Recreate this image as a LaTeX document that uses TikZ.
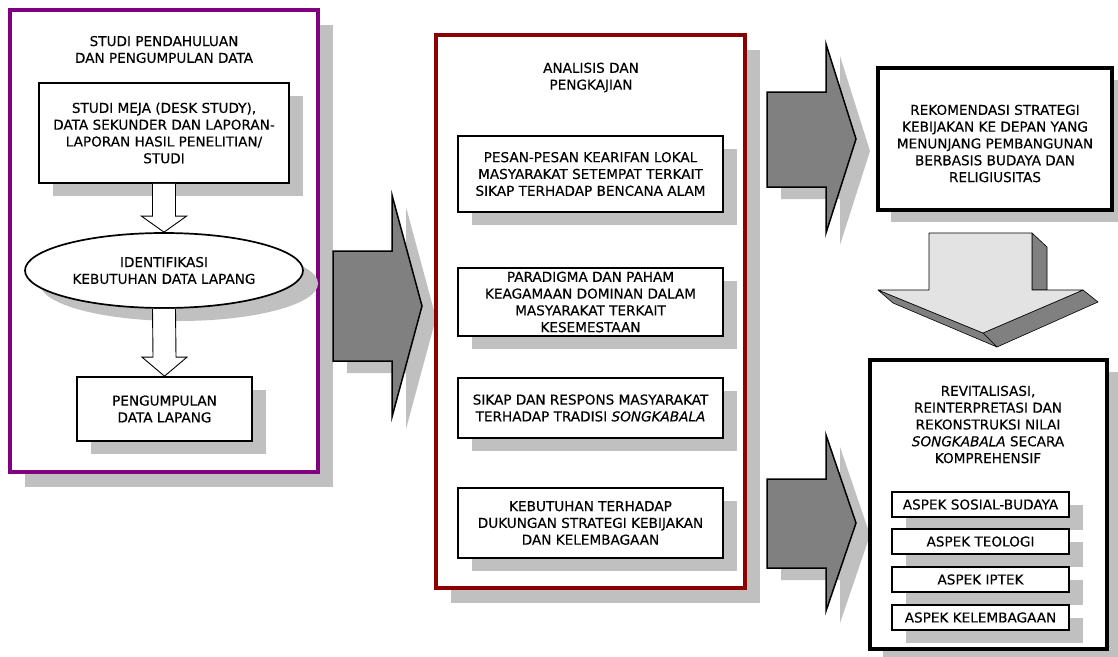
\documentclass[tikz,border=0pt]{standalone}
\usepackage{fontspec}
\setmainfont{DejaVu Sans}[FakeBold=0.3]
\usetikzlibrary{shapes.geometric,shadows,calc}
\definecolor{shd}{RGB}{192,192,192}
\definecolor{purp}{RGB}{128,0,128}
\definecolor{dred}{RGB}{139,0,0}
\definecolor{agray}{RGB}{128,128,128}
\definecolor{lgray}{RGB}{227,227,227}
\begin{document}
\begin{tikzpicture}[x=1pt,y=-1pt,
  txt/.style={font=\fontsize{13.6}{16.8}\selectfont, align=center},
  bshadow/.style={drop shadow={shadow xshift=14pt,shadow yshift=-13pt,fill=shd,opacity=1}},
  cshadow/.style={drop shadow={shadow xshift=15pt,shadow yshift=-15pt,fill=shd,opacity=1}},
  container/.style={line width=3.2pt, fill=white, inner sep=0pt, cshadow},
  inbox/.style={draw=black, line width=1.7pt, fill=white, inner sep=0pt, txt, bshadow},
  outbox/.style={draw=black, line width=3.2pt, fill=white, inner sep=0pt, txt,
    drop shadow={shadow xshift=13pt,shadow yshift=-12pt,fill=shd,opacity=1}},
  hollow/.style={draw=black, line width=0.9pt, fill=white},
  bigarrow/.style={draw=black, line width=1.5pt, fill=agray, line join=miter,
    drop shadow={shadow xshift=14pt,shadow yshift=-12pt,fill=shd,opacity=1}},
  face/.style={draw=black, line width=0.6pt, line join=round},
]
\useasboundingbox (0,0) rectangle (1118,656);
\fill[white] (0,0) rectangle (1118,656);

% ---------- column 1 ----------
\node[container, draw=purp, minimum width=308pt, minimum height=462pt] (c1) at (164,241) {};
\node[txt] (t1) at (164,49.5) {STUDI PENDAHULUAN\\DAN PENGUMPULAN DATA};
\node[inbox, minimum width=250pt, minimum height=100pt] (b1) at (164,133)
  {STUDI MEJA (DESK STUDY),\\DATA SEKUNDER DAN LAPORAN-\\LAPORAN HASIL PENELITIAN/\\STUDI};
\node[ellipse, draw=black, line width=1.7pt, fill=white, inner sep=0pt, txt,
  minimum width=278pt, minimum height=75pt,
  drop shadow={shadow xshift=15pt,shadow yshift=-13pt,fill=shd,opacity=1}] (e1) at (164,270.5)
  {IDENTIFIKASI\\KEBUTUHAN DATA LAPANG};
\node[inbox, minimum width=175pt, minimum height=64pt] (b2) at (164.5,409)
  {PENGUMPULAN\\DATA LAPANG};

\draw[hollow] ($(b1.south)+(-11.5,0)$) -- ($(e1.north)+(-11.5,-16)$) -- ($(e1.north)+(-22.5,-16)$)
  -- (e1.north) -- ($(e1.north)+(22.5,-16)$) -- ($(e1.north)+(11.5,-16)$) -- ($(b1.south)+(11.5,0)$);
\draw[hollow] ($(e1.south)+(-11.5,0)$) -- ($(b2.north)+(-11.5,-19)$) -- ($(b2.north)+(-22.5,-19)$)
  -- (b2.north) -- ($(b2.north)+(22.5,-19)$) -- ($(b2.north)+(11.5,-19)$) -- ($(e1.south)+(11.5,0)$);

% ---------- arrow 1 ----------
\draw[bigarrow] (333,251) -- (392,251) -- (392,195) -- (422,306) -- (392,417) -- (392,361) -- (333,361) -- cycle;

% ---------- column 2 ----------
\node[container, draw=dred, minimum width=309pt, minimum height=553pt] (c2) at (590.5,311.5) {};
\node[txt] (t2) at (591,77.5) {ANALISIS DAN\\PENGKAJIAN};
\node[inbox, minimum width=265pt, minimum height=76pt] (m1) at (590.5,174)
  {PESAN-PESAN KEARIFAN LOKAL\\MASYARAKAT SETEMPAT TERKAIT\\SIKAP TERHADAP BENCANA ALAM};
\node[inbox, minimum width=265pt, minimum height=68pt] (m2) at (590.5,302)
  {PARADIGMA DAN PAHAM\\KEAGAMAAN DOMINAN DALAM\\MASYARAKAT TERKAIT\\KESEMESTAAN};
\node[inbox, minimum width=265pt, minimum height=60pt] (m3) at (590.5,408)
  {SIKAP DAN RESPONS MASYARAKAT\\TERHADAP TRADISI \textit{SONGKABALA}};
\node[inbox, minimum width=265pt, minimum height=70pt] (m4) at (590.5,523)
  {KEBUTUHAN TERHADAP\\DUKUNGAN STRATEGI KEBIJAKAN\\DAN KELEMBAGAAN};

% ---------- arrows 2 and 3 ----------
\draw[bigarrow] (767,92) -- (826,92) -- (826,44) -- (856,139) -- (826,233) -- (826,187) -- (767,187) -- cycle;
\draw[bigarrow] (767,479) -- (826,479) -- (826,435) -- (856,523) -- (826,611) -- (826,568) -- (767,568) -- cycle;

% ---------- column 3 ----------
\node[outbox, minimum width=234pt, minimum height=142pt] (r1) at (995,139) {};
\node[txt] (r1t) at (995,143.5)
  {REKOMENDASI STRATEGI\\KEBIJAKAN KE DEPAN YANG\\MENUNJANG PEMBANGUNAN\\BERBASIS BUDAYA DAN\\RELIGIUSITAS};

% 3D down arrow
\filldraw[face, fill=agray] (1032,233) -- (1047,247) -- (1047,290) -- (1032,290) -- cycle;
\filldraw[face, fill=agray] (1083,290) -- (1098,302) -- (997,347) -- (983,333) -- cycle;
\filldraw[face, fill=agray] (878,290) -- (983,333) -- (997,347) -- (893,303) -- cycle;
\filldraw[face, fill=lgray] (929,233) -- (1032,233) -- (1032,290) -- (1083,290) -- (983,333)
  -- (878,290) -- (929,290) -- cycle;

\node[outbox, minimum width=237pt, minimum height=289pt] (r2) at (988.5,504.5) {};
\node[txt] (t3) at (988,424.5) {REVITALISASI,\\REINTERPRETASI DAN\\REKONSTRUKSI NILAI\\\textit{SONGKABALA} SECARA\\KOMPREHENSIF};
\node[inbox, minimum width=177pt, minimum height=25pt] (a1) at (980.5,504.5) {ASPEK SOSIAL-BUDAYA};
\node[inbox, minimum width=177pt, minimum height=25pt] (a2) at (980.5,541.5) {ASPEK TEOLOGI};
\node[inbox, minimum width=177pt, minimum height=25pt] (a3) at (980.5,579.5) {ASPEK IPTEK};
\node[inbox, minimum width=177pt, minimum height=25pt] (a4) at (980.5,617.5) {ASPEK KELEMBAGAAN};
\end{tikzpicture}
\end{document}
